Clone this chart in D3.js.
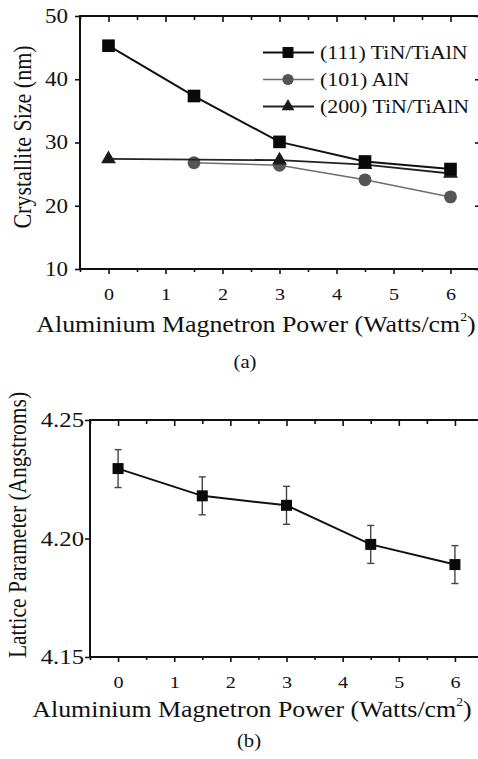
<!DOCTYPE html>
<html>
<head>
<meta charset="utf-8">
<script src="https://cdn.jsdelivr.net/npm/d3@7"></script>
<style>
  body { margin: 0; background: #fff; }
  svg text { font-family: "Liberation Serif", "Times New Roman", serif; }
</style>
</head>
<body>
<svg id="fig" width="478" height="759"></svg>
<script>
// values
const power = [0, 1.5, 3, 4.5, 6];
const size111 = [45.3, 37.35, 30.1, 27.0, 25.8];
const powerAlN = [1.5, 3, 4.5, 6];
const sizeAlN = [26.8, 26.4, 24.1, 21.4];
const power200 = [0, 3, 4.5, 6];
const size200 = [27.4, 27.2, 26.5, 25.1];
const lattice = [4.2295, 4.218, 4.214, 4.1975, 4.189];
const latticeErr = [0.008, 0.008, 0.008, 0.008, 0.008];
const xTicks = [0, 1, 2, 3, 4, 5, 6];
const xMinor = [-0.5, 0.5, 1.5, 2.5, 3.5, 4.5, 5.5];
const yTicksA = [10, 20, 30, 40, 50];
const yTicksB = [4.15, 4.20, 4.25];

const svg = d3.select("#fig");
const stretch = 1.15; // the scan is a bit wider than tall

function frameAxes(g, x, y, yTicks, yFmt, yFont, yPad) {
	const [x0, x1] = x.range();
	const [y1, y0] = y.range();
	// bottom axis, majors + minors
	g.append("g").attr("transform", `translate(0,${y1})`)
		.call(d3.axisBottom(x).tickValues(xTicks).tickSize(5).tickPadding(14).tickFormat(d3.format("d")))
		.selectAll("text")
			.attr("font-size", 17.5)
			.attr("transform", `scale(${stretch},1)`);
	g.append("g").attr("transform", `translate(0,${y1})`)
		.call(d3.axisBottom(x).tickValues(xMinor).tickSize(3).tickFormat(""));
	// top axis, ticks pointing inward
	g.append("g").attr("transform", `translate(0,${y0})`)
		.call(d3.axisTop(x).tickValues(xTicks).tickSize(-6).tickFormat(""));
	g.append("g").attr("transform", `translate(0,${y0})`)
		.call(d3.axisTop(x).tickValues(xMinor).tickSize(-4).tickFormat(""));
	// left axis
	g.append("g").attr("transform", `translate(${x0},0)`)
		.call(d3.axisLeft(y).tickValues(yTicks).tickSize(5).tickFormat(d3.format(yFmt)))
		.selectAll("text")
			.attr("x", 0)
			.attr("font-size", yFont)
			.attr("transform", `translate(${-yPad},0) scale(${stretch},1)`);
	// right axis, inward
	g.append("g").attr("transform", `translate(${x1},0)`)
		.call(d3.axisRight(y).tickValues(yTicks).tickSize(-4).tickFormat(""));

	g.selectAll(".domain").remove();
	g.selectAll(".tick line").attr("stroke", "#111").attr("stroke-width", 1.6);
	g.selectAll(".tick text").attr("fill", "#111");

	g.append("rect")
		.attr("x", x0).attr("y", y0)
		.attr("width", x1 - x0).attr("height", y1 - y0)
		.attr("fill", "none").attr("stroke", "#111").attr("stroke-width", 2);
}

function xTitle(g, cx, baseline) {
	const t = g.append("text")
		.attr("transform", `translate(${cx},${baseline}) scale(${stretch},1)`)
		.attr("text-anchor", "middle")
		.attr("font-size", 22.5)
		.attr("fill", "#111");
	t.append("tspan").text("Aluminium Magnetron Power (Watts/cm");
	t.append("tspan").text("2").attr("font-size", 12).attr("dy", -11);
	t.append("tspan").text(")").attr("dy", 11);
}

function yTitle(g, cx, cy, label, size) {
	g.append("text")
		.attr("transform", `translate(${cx},${cy}) scale(${stretch},1) rotate(-90)`)
		.attr("text-anchor", "middle")
		.attr("dy", "0.35em")
		.attr("font-size", size)
		.attr("fill", "#111")
		.text(label);
}

function caption(g, cx, cy, label) {
	g.append("text")
		.attr("transform", `translate(${cx},${cy}) scale(${stretch},1)`)
		.attr("text-anchor", "middle")
		.attr("dy", "0.35em")
		.attr("font-size", 18)
		.attr("fill", "#111")
		.text(label);
}

// ---------- (a) crystallite size ----------
const xA = d3.scaleLinear().domain([-0.5, 6.5]).range([80, 479]);
const yA = d3.scaleLinear().domain([10, 50]).range([269, 16]);
const gA = svg.append("g");

const seriesA = [
	{ name: "(111) TiN/TiAlN", xs: power, ys: size111, line: "#111", fill: "#0a0a0a", width: 2, symbol: d3.symbolSquare, area: 160, z: 2 },
	{ name: "(101) AlN", xs: powerAlN, ys: sizeAlN, line: "#6e6e6e", fill: "#555", width: 1.5, symbol: d3.symbolCircle, area: 130, z: 0 },
	{ name: "(200) TiN/TiAlN", xs: power200, ys: size200, line: "#222", fill: "#1a1a1a", width: 1.8, symbol: d3.symbolTriangle, area: 95, z: 1 }
];

const lineA = d3.line().x(d => xA(d[0])).y(d => yA(d[1]));
// AlN at the back, then (200), then (111) on top
seriesA.slice().sort((a, b) => a.z - b.z).forEach(s => {
	const pts = s.xs.map((v, i) => [v, s.ys[i]]);
	gA.append("path")
		.attr("d", lineA(pts))
		.attr("fill", "none")
		.attr("stroke", s.line)
		.attr("stroke-width", s.width);
	gA.selectAll(null)
		.data(pts)
		.enter()
		.append("path")
			.attr("transform", d => `translate(${xA(d[0])},${yA(d[1])})`)
			.attr("d", d3.symbol().type(s.symbol).size(s.area))
			.attr("fill", s.fill);
});

frameAxes(gA, xA, yA, yTicksA, "d", 20, 12);

// legend
const legend = gA.append("g");
seriesA.forEach((s, i) => {
	const ly = 52.5 + i * 27;
	legend.append("line")
		.attr("x1", 263).attr("x2", 314)
		.attr("y1", ly).attr("y2", ly)
		.attr("stroke", s.line).attr("stroke-width", s.width);
	legend.append("path")
		.attr("transform", `translate(288,${ly})`)
		.attr("d", d3.symbol().type(s.symbol).size(s.area * 0.75))
		.attr("fill", s.fill);
	legend.append("text")
		.attr("transform", `translate(320,${ly}) scale(${stretch},1)`)
		.attr("dy", "0.33em")
		.attr("font-size", 19)
		.attr("fill", "#111")
		.text(s.name);
});

yTitle(gA, 22, 137, "Crystallite Size (nm)", 22);
xTitle(gA, 256, 332);
caption(gA, 245, 362, "(a)");

// ---------- (b) lattice parameter ----------
const xB = d3.scaleLinear().domain([-0.5, 6.5]).range([90, 483]);
const yB = d3.scaleLinear().domain([4.15, 4.25]).range([657, 420]);
const gB = svg.append("g");

const ptsB = power.map((v, i) => ({ x: v, y: lattice[i], e: latticeErr[i] }));

const bars = gB.selectAll(".err")
	.data(ptsB)
	.enter()
	.append("g")
	.attr("class", "err")
	.attr("stroke", "#444")
	.attr("stroke-width", 1.4);
bars.append("line")
	.attr("x1", d => xB(d.x)).attr("x2", d => xB(d.x))
	.attr("y1", d => yB(d.y - d.e)).attr("y2", d => yB(d.y + d.e));
bars.append("line")
	.attr("x1", d => xB(d.x) - 3.5).attr("x2", d => xB(d.x) + 3.5)
	.attr("y1", d => yB(d.y + d.e)).attr("y2", d => yB(d.y + d.e));
bars.append("line")
	.attr("x1", d => xB(d.x) - 3.5).attr("x2", d => xB(d.x) + 3.5)
	.attr("y1", d => yB(d.y - d.e)).attr("y2", d => yB(d.y - d.e));

gB.append("path")
	.attr("d", d3.line().x(d => xB(d.x)).y(d => yB(d.y))(ptsB))
	.attr("fill", "none")
	.attr("stroke", "#111")
	.attr("stroke-width", 2);

gB.selectAll(".pt")
	.data(ptsB)
	.enter()
	.append("rect")
		.attr("class", "pt")
		.attr("x", d => xB(d.x) - 5.5)
		.attr("y", d => yB(d.y) - 5.5)
		.attr("width", 11).attr("height", 11)
		.attr("fill", "#0a0a0a");

frameAxes(gB, xB, yB, yTicksB, ".2f", 21.5, 6);

yTitle(gB, 17, 525, "Lattice Parameter (Angstroms)", 21.5);
xTitle(gB, 252, 717);
caption(gB, 249, 741, "(b)");
</script>
</body>
</html>
